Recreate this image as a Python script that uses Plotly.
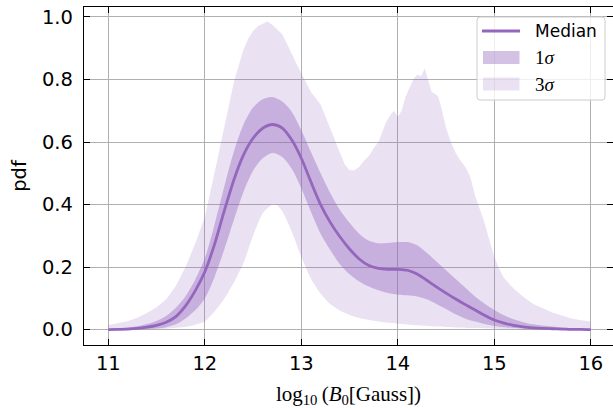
import plotly.graph_objects as go

# ---- posterior summary of log10(B0 [Gauss]) ----
x_grid = [11.0, 11.1, 11.2, 11.3, 11.4, 11.5, 11.6, 11.7, 11.8, 11.9,
          12.0, 12.1, 12.2, 12.3, 12.4, 12.5, 12.6, 12.7, 12.8, 12.9,
          13.0, 13.1, 13.2, 13.3, 13.4, 13.5, 13.6, 13.7, 13.8, 13.9,
          14.0, 14.1, 14.2, 14.3, 14.4, 14.5, 14.6, 14.7, 14.8, 14.9,
          15.0, 15.1, 15.2, 15.3, 15.4, 15.5, 15.6, 15.7, 15.8, 15.9, 16.0]

median = [0.000, 0.001, 0.002, 0.004, 0.008, 0.014, 0.024, 0.042, 0.076, 0.124,
          0.185, 0.272, 0.378, 0.478, 0.558, 0.612, 0.644, 0.656, 0.645, 0.607,
          0.548, 0.472, 0.400, 0.343, 0.297, 0.258, 0.226, 0.205, 0.196, 0.193,
          0.193, 0.190, 0.178, 0.158, 0.137, 0.117, 0.098, 0.080, 0.063, 0.046,
          0.031, 0.021, 0.014, 0.009, 0.006, 0.004, 0.003, 0.002, 0.001, 0.001, 0.000]

sig1_hi = [0.002, 0.004, 0.007, 0.011, 0.018, 0.028, 0.044, 0.070, 0.107, 0.160,
           0.228, 0.335, 0.455, 0.568, 0.655, 0.710, 0.737, 0.744, 0.730, 0.697,
           0.638, 0.568, 0.500, 0.437, 0.383, 0.342, 0.307, 0.284, 0.276, 0.277,
           0.280, 0.280, 0.270, 0.246, 0.218, 0.190, 0.162, 0.134, 0.106, 0.083,
           0.063, 0.046, 0.033, 0.024, 0.017, 0.013, 0.010, 0.007, 0.005, 0.004, 0.003]

sig1_lo = [0.000, 0.000, 0.001, 0.001, 0.002, 0.004, 0.008, 0.017, 0.036, 0.062,
           0.100, 0.168, 0.255, 0.350, 0.440, 0.508, 0.548, 0.565, 0.553, 0.515,
           0.452, 0.377, 0.307, 0.255, 0.209, 0.177, 0.154, 0.138, 0.126, 0.117,
           0.112, 0.110, 0.106, 0.097, 0.082, 0.066, 0.049, 0.035, 0.026, 0.018,
           0.012, 0.008, 0.005, 0.003, 0.002, 0.001, 0.001, 0.000, 0.000, 0.000, 0.000]

x_sig3_lo = [11.0, 11.2, 11.4, 11.6, 11.8, 11.9, 12.0, 12.1, 12.2, 12.3,
             12.4, 12.5, 12.6, 12.7, 12.75, 12.8, 12.9, 13.0, 13.1, 13.2,
             13.3, 13.4, 13.5, 13.6, 13.7, 13.8, 13.9, 14.0, 14.2, 14.4,
             14.6, 14.8, 15.0, 15.5, 16.0]
sig3_lo = [0.000, 0.000, 0.001, 0.003, 0.009, 0.016, 0.026, 0.058, 0.098, 0.150,
           0.212, 0.300, 0.372, 0.400, 0.398, 0.380, 0.315, 0.233, 0.163, 0.115,
           0.082, 0.061, 0.047, 0.037, 0.031, 0.026, 0.022, 0.019, 0.014, 0.010,
           0.007, 0.005, 0.003, 0.001, 0.000]

x_sig3_hi = [11.0, 11.1, 11.2, 11.3, 11.4, 11.5, 11.6, 11.7, 11.8, 11.9,
             12.0, 12.1, 12.2, 12.3, 12.4, 12.45, 12.5, 12.55, 12.6, 12.65,
             12.68, 12.7, 12.75, 12.8, 12.85, 12.9, 12.95, 13.0, 13.1, 13.2,
             13.3, 13.4, 13.45, 13.5, 13.55, 13.6, 13.65, 13.7, 13.75, 13.8,
             13.85, 13.88, 13.92, 13.96, 14.0, 14.04, 14.08, 14.12, 14.16, 14.2,
             14.24, 14.28, 14.31, 14.35, 14.38, 14.42, 14.45, 14.5, 14.55, 14.6,
             14.65, 14.7, 14.75, 14.8, 14.85, 14.9, 14.95, 15.0, 15.05, 15.1,
             15.2, 15.3, 15.4, 15.5, 15.6, 15.7, 15.8, 15.9, 16.0]
sig3_hi = [0.015, 0.020, 0.027, 0.038, 0.053, 0.072, 0.097, 0.140, 0.200, 0.275,
           0.360, 0.500, 0.650, 0.790, 0.895, 0.930, 0.955, 0.970, 0.978, 0.985,
           0.978, 0.975, 0.960, 0.945, 0.915, 0.880, 0.850, 0.820, 0.760, 0.720,
           0.645, 0.570, 0.528, 0.510, 0.510, 0.520, 0.540, 0.555, 0.580, 0.600,
           0.645, 0.665, 0.685, 0.700, 0.680, 0.700, 0.745, 0.775, 0.800, 0.815,
           0.810, 0.835, 0.800, 0.760, 0.755, 0.745, 0.710, 0.645, 0.600, 0.565,
           0.540, 0.520, 0.490, 0.430, 0.385, 0.340, 0.285, 0.233, 0.195, 0.165,
           0.132, 0.105, 0.083, 0.068, 0.055, 0.045, 0.036, 0.030, 0.026]

x_ticks = [11, 12, 13, 14, 15, 16]
y_ticks = [0.0, 0.2, 0.4, 0.6, 0.8, 1.0]
y_tick_text = ["0.0", "0.2", "0.4", "0.6", "0.8", "1.0"]

legend_labels = ["Median", "1<i>σ</i>", "3<i>σ</i>"]

PURPLE = "#9467bd"
FILL_1 = "rgba(148,103,189,0.4)"
FILL_3 = "rgba(148,103,189,0.2)"
SANS = "DejaVu Sans"
SERIF = "Liberation Serif"

W, H = 613, 408
PL, PR, PT, PB = 84, 613, 7, 345   # plot-area edges in pixels


def fx(p):
    return (p - PL) / (PR - PL)


def fy(p):
    return (PB - p) / (PB - PT)


fig = go.Figure()

# 3-sigma band
fig.add_trace(go.Scatter(x=x_sig3_lo, y=sig3_lo, mode="lines",
                         line=dict(width=0, shape="spline", smoothing=0.6),
                         hoverinfo="skip", showlegend=False))
fig.add_trace(go.Scatter(x=x_sig3_hi, y=sig3_hi, mode="lines", fill="tonexty",
                         fillcolor=FILL_3, line=dict(width=0),
                         hoverinfo="skip", showlegend=False))
# 1-sigma band
fig.add_trace(go.Scatter(x=x_grid, y=sig1_lo, mode="lines",
                         line=dict(width=0, shape="spline", smoothing=0.8),
                         hoverinfo="skip", showlegend=False))
fig.add_trace(go.Scatter(x=x_grid, y=sig1_hi, mode="lines", fill="tonexty",
                         fillcolor=FILL_1,
                         line=dict(width=0, shape="spline", smoothing=0.8),
                         hoverinfo="skip", showlegend=False))
# median curve
fig.add_trace(go.Scatter(x=x_grid, y=median, mode="lines",
                         line=dict(color=PURPLE, width=2.8, shape="spline", smoothing=0.8),
                         showlegend=False))
# carrier for the right-hand tick marks
fig.add_trace(go.Scatter(x=[], y=[], yaxis="y2", showlegend=False, hoverinfo="skip"))

axis_common = dict(
    showline=True, linecolor="black", linewidth=1.3,
    ticks="inside", ticklen=6, tickwidth=1.2, tickcolor="black",
    showgrid=True, gridcolor="#b0b0b0", gridwidth=1,
    zeroline=False,
    tickfont=dict(family=SANS, size=19.5, color="black"),
)

fig.update_layout(
    width=W, height=H,
    margin=dict(l=PL, r=W - PR, t=PT, b=H - PB, pad=0),
    paper_bgcolor="white", plot_bgcolor="white",
    showlegend=False,
    xaxis=dict(range=[10.748, 16.23], tickvals=x_ticks,
               ticktext=[str(v) for v in x_ticks], mirror="ticks",
               ticklabelstandoff=0,
               title=dict(text="log<sub>10</sub>\u2009(<i>B</i><sub>0</sub>[Gauss])",
                          font=dict(family=SERIF, size=21, color="black"),
                          standoff=13),
               **axis_common),
    yaxis=dict(range=[-0.049, 1.0317], tickvals=y_ticks, ticktext=y_tick_text,
               mirror=False, ticklabelstandoff=6,
               title=dict(text="pdf", font=dict(family=SANS, size=19.5, color="black"),
                          standoff=10),
               **axis_common),
    yaxis2=dict(range=[-0.049, 1.0317], tickvals=y_ticks, overlaying="y",
                side="right", anchor="x", showline=False, showgrid=False,
                zeroline=False, showticklabels=False, ticks="inside",
                ticklen=6, tickwidth=1.2, tickcolor="black"),
)

# legend frame
lx0, lx1, ly0, ly1, rr = 477, 605, 17, 100, 3
frame = (f"M {fx(lx0 + rr)},{fy(ly0)} L {fx(lx1 - rr)},{fy(ly0)} "
         f"Q {fx(lx1)},{fy(ly0)} {fx(lx1)},{fy(ly0 + rr)} "
         f"L {fx(lx1)},{fy(ly1 - rr)} Q {fx(lx1)},{fy(ly1)} {fx(lx1 - rr)},{fy(ly1)} "
         f"L {fx(lx0 + rr)},{fy(ly1)} Q {fx(lx0)},{fy(ly1)} {fx(lx0)},{fy(ly1 - rr)} "
         f"L {fx(lx0)},{fy(ly0 + rr)} Q {fx(lx0)},{fy(ly0)} {fx(lx0 + rr)},{fy(ly0)} Z")
fig.add_shape(type="path", path=frame, xref="paper", yref="paper",
              fillcolor="rgba(255,255,255,0.8)", line=dict(color="#cccccc", width=1))

# legend keys
fig.add_shape(type="line", xref="paper", yref="paper",
              x0=fx(482), x1=fx(520), y0=fy(31), y1=fy(31),
              line=dict(color=PURPLE, width=2.8))
fig.add_shape(type="rect", xref="paper", yref="paper",
              x0=fx(483), x1=fx(519.5), y0=fy(51), y1=fy(64),
              fillcolor=FILL_1, line=dict(width=0))
fig.add_shape(type="rect", xref="paper", yref="paper",
              x0=fx(483), x1=fx(519.5), y0=fy(77.5), y1=fy(90.5),
              fillcolor=FILL_3, line=dict(width=0))

legend_rows = [(31, SANS, 17), (57.5, SERIF, 19), (84, SERIF, 19)]
for label, (py, fam, sz) in zip(legend_labels, legend_rows):
    fig.add_annotation(text=label, xref="paper", yref="paper",
                       x=fx(533), y=fy(py), xanchor="left", yanchor="middle",
                       showarrow=False, font=dict(family=fam, size=sz, color="black"))

fig.write_html("out.html")
